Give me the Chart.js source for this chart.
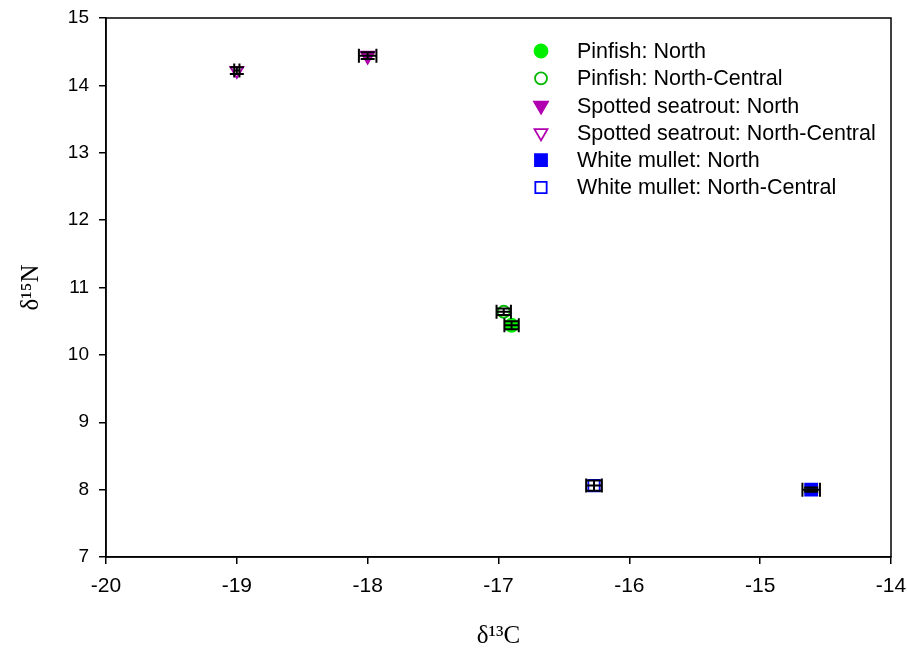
<!DOCTYPE html>
<html>
<head>
<meta charset="utf-8">
<script src="https://cdn.jsdelivr.net/npm/chart.js@4.4.1/dist/chart.umd.min.js"></script>
<style>
  html, body { margin: 0; padding: 0; background: #ffffff; }
  #wrap { width: 907px; height: 656px; }
</style>
</head>
<body>
<div id="wrap"><canvas id="c" width="907" height="656"></canvas></div>
<script>
// ---- data ----
const seriesNames = [
  'Pinfish: North',
  'Pinfish: North-Central',
  'Spotted seatrout: North',
  'Spotted seatrout: North-Central',
  'White mullet: North',
  'White mullet: North-Central'
];
const d13C   = [-16.90, -16.96, -18.00, -19.00, -14.61, -16.27];
const d15N   = [10.44, 10.64, 14.44, 14.22, 8.00, 8.06];
const errC   = [0.055, 0.055, 0.067, 0.02, 0.067, 0.06];
const errN   = [0.06, 0.05, 0.05, 0.05, 0.03, 0.075];
const xTicks = [-20, -19, -18, -17, -16, -15, -14];
const yTicks = [7, 8, 9, 10, 11, 12, 13, 14, 15];

// ---- styles ----
const markerColors = ['#00ee00', '#00b800', '#b000b0', '#b000b0', '#0000ff', '#0000ff'];
const markerFilled = [true, false, true, false, true, false];
const markerStyle  = ['circle', 'circle', 'triangle', 'triangle', 'rect', 'rect'];
const markerRot    = [0, 0, 180, 180, 0, 0];
const markerRadius = [6.5, 6, 8, 7.5, 8.5, 8];

const datasets = seriesNames.map((name, i) => ({
  label: name,
  data: [{ x: d13C[i], y: d15N[i] }],
  pointStyle: markerStyle[i],
  rotation: markerRot[i],
  pointRadius: markerRadius[i],
  pointBorderWidth: 1.8,
  pointBackgroundColor: markerFilled[i] ? markerColors[i] : '#ffffff',
  pointBorderColor: markerColors[i],
  errX: errC[i],
  errY: errN[i]
}));

const errorBars = {
  id: 'errorBars',
  afterDatasetsDraw(chart) {
    const ctx = chart.ctx;
    const xs = chart.scales.x, ys = chart.scales.y;
    const cap = 7;
    ctx.save();
    ctx.strokeStyle = '#000000';
    ctx.lineWidth = 2;
    chart.data.datasets.forEach(ds => {
      ds.data.forEach(p => {
        const cx = xs.getPixelForValue(p.x), cy = ys.getPixelForValue(p.y);
        const x0 = xs.getPixelForValue(p.x - ds.errX), x1 = xs.getPixelForValue(p.x + ds.errX);
        const y0 = ys.getPixelForValue(p.y - ds.errY), y1 = ys.getPixelForValue(p.y + ds.errY);
        ctx.beginPath();
        ctx.moveTo(x0, cy); ctx.lineTo(x1, cy);
        ctx.moveTo(x0, cy - cap); ctx.lineTo(x0, cy + cap);
        ctx.moveTo(x1, cy - cap); ctx.lineTo(x1, cy + cap);
        ctx.moveTo(cx, y0); ctx.lineTo(cx, y1);
        ctx.moveTo(cx - cap, y0); ctx.lineTo(cx + cap, y0);
        ctx.moveTo(cx - cap, y1); ctx.lineTo(cx + cap, y1);
        ctx.stroke();
      });
    });
    ctx.restore();
  }
};

const frameAndLegend = {
  id: 'frameAndLegend',
  afterDraw(chart) {
    const ctx = chart.ctx;
    const a = chart.chartArea;
    ctx.save();
    ctx.strokeStyle = '#000000';
    ctx.lineWidth = 1.5;
    ctx.strokeRect(a.left, a.top, a.right - a.left, a.bottom - a.top);
    // legend
    const mx = 541, tx = 577, y0 = 51, dy = 27.3;
    ctx.font = '21.5px "Liberation Sans", Arial, sans-serif';
    ctx.textBaseline = 'middle';
    ctx.fillStyle = '#000000';
    seriesNames.forEach((name, i) => {
      const y = y0 + i * dy;
      ctx.save();
      ctx.fillStyle = markerFilled[i] ? markerColors[i] : '#ffffff';
      ctx.strokeStyle = markerColors[i];
      ctx.lineWidth = 1.8;
      Chart.helpers.drawPoint(ctx, {
        pointStyle: markerStyle[i],
        rotation: markerRot[i],
        radius: markerRadius[i],
        borderWidth: 1.8
      }, mx, y);
      ctx.restore();
      ctx.fillStyle = '#000000';
      ctx.textAlign = 'left';
      ctx.fillText(name, tx, y + 1);
    });
    ctx.restore();
  }
};

new Chart(document.getElementById('c'), {
  type: 'scatter',
  data: { datasets },
  options: {
    responsive: false,
    animation: false,
    layout: { padding: { top: 18, right: 16, left: 0, bottom: 0 } },
    plugins: { legend: { display: false }, tooltip: { enabled: false } },
    scales: {
      x: {
        type: 'linear',
        min: xTicks[0], max: xTicks[xTicks.length - 1],
        afterBuildTicks(s) { s.ticks = xTicks.map(v => ({ value: v })); },
        afterFit(s) { s.height = 99; s.paddingLeft = 0; s.paddingRight = 0; },
        grid: { display: true, drawOnChartArea: false, drawTicks: true, tickLength: 7, color: '#000000', lineWidth: 1.5 },
        border: { display: true, color: '#000000', width: 1.5 },
        ticks: { color: '#000000', padding: 10, maxRotation: 0, font: { family: '"Liberation Sans", Arial, sans-serif', size: 21 } },
        title: { display: true, text: 'δ¹³C', color: '#000000', padding: { top: 0, bottom: 5 }, font: { family: '"Liberation Serif", "Times New Roman", serif', size: 25 } }
      },
      y: {
        type: 'linear',
        min: yTicks[0], max: yTicks[yTicks.length - 1],
        afterBuildTicks(s) { s.ticks = yTicks.map(v => ({ value: v })); },
        afterFit(s) { s.width = 106; s.paddingTop = 0; s.paddingBottom = 0; },
        grid: { display: true, drawOnChartArea: false, drawTicks: true, tickLength: 7, color: '#000000', lineWidth: 1.5 },
        border: { display: true, color: '#000000', width: 1.5 },
        ticks: { color: '#000000', padding: 10, font: { family: '"Liberation Sans", Arial, sans-serif', size: 19 } },
        title: { display: true, text: 'δ¹⁵N', color: '#000000', padding: { top: 16, bottom: 0 }, font: { family: '"Liberation Serif", "Times New Roman", serif', size: 25 } }
      }
    }
  },
  plugins: [errorBars, frameAndLegend]
});
</script>
</body>
</html>
